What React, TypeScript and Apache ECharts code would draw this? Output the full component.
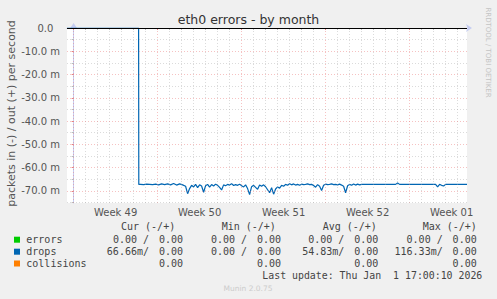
import React, { useEffect, useRef } from 'react';
import * as echarts from 'echarts';

// x unit: hours since Mon 1 Dec 00:00 (start of Week 49)
const xMin = -13.2;
const xMax = 786.8;
const weekLabels = ['Week 49', 'Week 50', 'Week 51', 'Week 52', 'Week 01'];
const weekLabelHours = [84, 252, 420, 588, 756];
const weekStartHours = [0, 168, 336, 504, 672];
const dayHours = [
  24, 48, 72, 96, 120, 144,
  192, 216, 240, 264, 288, 312,
  360, 384, 408, 432, 456, 480,
  528, 552, 576, 600, 624, 648,
  696, 720, 744, 768,
];

// y unit: milli packets / s
const yMin = -75.2;
const yMax = 0;
const yMajor = [0, -10, -20, -30, -40, -50, -60, -70];
const yMinor = [-5, -15, -25, -35, -45, -55, -65, -75];

const dropsHours = [
  -13.2, 130, 130.4, 134, 140, 146, 152, 158, 164, 170, 176, 182, 188, 194, 200, 206, 212, 218,
  224, 228, 232, 236, 240, 244, 248, 252, 256, 260, 264, 268, 272, 276, 280, 284, 288, 292, 296,
  300, 304, 308, 312, 316, 320, 324, 328, 332, 336, 340, 344, 348, 352, 356, 360, 364, 368, 372,
  376, 380, 384, 388, 392, 396, 400, 404, 408, 412, 416, 420, 424, 428, 432, 436, 440, 444, 448,
  452, 456, 460, 464, 468, 472, 476, 480, 484, 488, 492, 496, 500, 504, 508, 512, 516, 520, 524,
  528, 532, 536, 540, 544, 548, 552, 556, 560, 564, 568, 572, 576,
  644, 648, 652, 724, 728, 732, 736, 740, 744, 786.8,
];
const dropsValues = [
  0, 0, -67.2, -67.2, -67.3, -67.1, -67.2, -67.3, -67.1, -67.4, -67.0, -67.3, -67.0, -67.4, -66.8, -67.5, -67.0, -67.4,
  -68.0, -71.2, -69.0, -67.6, -68.3, -67.2, -68.6, -67.4, -67.9, -70.6, -67.8, -67.2, -68.4, -67.3, -67.9, -67.1, -67.6, -68.5, -69.6,
  -67.4, -67.8, -67.2, -67.5, -66.9, -67.7, -67.3, -67.6, -67.1, -67.8, -68.3, -67.4, -69.0, -71.6, -68.2, -67.6, -68.5, -69.3, -67.5,
  -68.0, -67.4, -68.2, -69.5, -70.8, -68.6, -71.4, -69.2, -68.3, -68.8, -67.6, -68.0, -67.2, -67.6, -66.9, -67.4, -67.0, -67.5, -67.2,
  -67.6, -67.1, -67.3, -67.2, -67.0, -67.3, -67.2, -67.7, -68.4, -67.3, -68.0, -69.8, -67.6, -67.1, -67.3, -67.2, -67.0, -67.3, -67.2,
  -67.4, -67.1, -67.5, -68.0, -70.8, -67.8, -67.2, -67.6, -67.0, -67.5, -67.1, -67.4, -67.2,
  -67.2, -66.6, -67.2, -67.2, -68.3, -67.2, -67.6, -67.9, -67.2, -67.2,
];

const legendNames = ['errors', 'drops', 'collisions'];
const legendColors = ['#00cc00', '#0066b3', '#ff8000'];
const columnHeads = ['Cur (-/+)', 'Min (-/+)', 'Avg (-/+)', 'Max (-/+)'];
const errorsIn = ['0.00', '0.00', '0.00', '0.00'];
const errorsOut = ['0.00', '0.00', '0.00', '0.00'];
const dropsIn = ['66.66m', '0.00', '54.83m', '116.33m'];
const dropsOut = ['0.00', '0.00', '0.00', '0.00'];
const collisionsOut = ['0.00', '0.00', '0.00', '0.00'];
const titleText = 'eth0 errors - by month';
const yAxisName = 'packets in (-) / out (+) per second';
const lastUpdate = 'Last update: Thu Jan  1 17:00:10 2026';
const sideText = 'RRDTOOL / TOBI OETIKER';
const footerText = 'Munin 2.0.75';

const SANS = 'DejaVu Sans';
const MONO = 'DejaVu Sans Mono';

function txt(text: string, x: number, y: number, opts: any = {}) {
  const align = opts.align || 'left';
  return {
    type: 'text',
    x,
    y,
    rotation: opts.rotation || 0,
    silent: true,
    style: {
      text,
      align,
      textAlign: align,
      verticalAlign: 'middle',
      textVerticalAlign: 'middle',
      fontSize: opts.fontSize || 10,
      fontFamily: opts.fontFamily || MONO,
      fill: opts.fill || '#444',
    },
  };
}

export default function App() {
  const ref = useRef<HTMLDivElement>(null);
  useEffect(() => {
    if (!ref.current) return;
    const chart = echarts.init(ref.current, undefined, { renderer: 'svg' });

    const dropsData = dropsHours.map((h, i) => [h, dropsValues[i]]);

    const minorStyle = { color: 'rgba(160,160,160,0.38)', type: [1, 2], width: 1 };
    const majorStyle = { color: 'rgba(235,120,120,0.45)', type: [1, 2], width: 1 };
    const gridLines: any[] = [];
    dayHours.forEach((h) => gridLines.push({ xAxis: h, lineStyle: minorStyle }));
    weekStartHours.forEach((h) => gridLines.push({ xAxis: h, lineStyle: majorStyle }));
    yMinor.forEach((v) => gridLines.push({ yAxis: v, lineStyle: minorStyle }));
    yMajor.filter((v) => v !== 0).forEach((v) => gridLines.push({ yAxis: v, lineStyle: majorStyle }));

    const colEnds = [183, 281, 378.3, 476.7];
    const colHeadStarts = [121, 221.7, 322.7, 422.7];
    const rowY = [239.5, 251.5, 263.3];
    const graphics: any[] = [];
    graphics.push(txt(titleText, 248.5, 19, { align: 'center', fontSize: 12.5, fontFamily: SANS, fill: '#333' }));
    graphics.push(txt(yAxisName, 11.5, 113.5, { align: 'center', fontSize: 11, fontFamily: SANS, fill: '#555', rotation: Math.PI / 2 }));
    graphics.push(txt(sideText, 488, 52.5, { align: 'center', fontSize: 7, fontFamily: SANS, fill: '#c4c4c4', rotation: -Math.PI / 2 }));
    graphics.push(txt(footerText, 248, 288.3, { align: 'center', fontSize: 7.5, fontFamily: SANS, fill: '#cccccc' }));
    columnHeads.forEach((h, i) => graphics.push(txt(h, colHeadStarts[i], 226.8)));
    legendNames.forEach((n, r) => {
      graphics.push({
        type: 'rect',
        silent: true,
        shape: { x: 14, y: rowY[r] - 2.8, width: 6, height: 6 },
        style: { fill: legendColors[r] },
      });
      graphics.push(txt(n, 26.3, rowY[r]));
    });
    const negLabel = (v: string) => (v.endsWith('m') ? v + '/' : v + ' /');
    colEnds.forEach((e, i) => {
      graphics.push(txt(negLabel(errorsIn[i]), e - 34, rowY[0], { align: 'right' }));
      graphics.push(txt(errorsOut[i], e, rowY[0], { align: 'right' }));
      graphics.push(txt(negLabel(dropsIn[i]), e - 34, rowY[1], { align: 'right' }));
      graphics.push(txt(dropsOut[i], e, rowY[1], { align: 'right' }));
      graphics.push(txt(collisionsOut[i], e, rowY[2], { align: 'right' }));
    });
    graphics.push(txt(lastUpdate, 262.3, 275, { fontSize: 9.9 }));

    const axisColor = '#c6cdf0';
    chart.setOption({
      animation: false,
      backgroundColor: '#f0f0f0',
      grid: {
        left: 67,
        right: 30,
        top: 28,
        bottom: 96,
        show: true,
        backgroundColor: '#ffffff',
        borderWidth: 0,
      },
      xAxis: [
        {
          type: 'value',
          min: xMin,
          max: xMax,
          position: 'bottom',
          axisLine: {
            show: true,
            lineStyle: { color: axisColor, width: 1 },
            symbol: ['none', 'arrow'],
            symbolSize: [6, 6],
            symbolOffset: [0, 5],
          },
          axisTick: {
            show: true,
            customValues: weekStartHours,
            length: 2,
            lineStyle: { color: '#e88080' },
          },
          axisLabel: {
            customValues: weekLabelHours,
            formatter: (v: number) => weekLabels[weekLabelHours.indexOf(v)] ?? '',
            color: '#555',
            fontSize: 10,
            fontFamily: SANS,
            margin: 4,
          },
          splitLine: { show: false },
        },
        {
          type: 'value',
          min: xMin,
          max: xMax,
          position: 'bottom',
          axisLine: { show: false },
          axisTick: {
            show: true,
            customValues: dayHours,
            length: 2,
            lineStyle: { color: '#bbbbbb' },
          },
          axisLabel: { show: false },
          splitLine: { show: false },
        },
      ],
      yAxis: [
        {
          type: 'value',
          min: yMin,
          max: yMax,
          position: 'left',
          axisLine: {
            show: true,
            lineStyle: { color: axisColor, width: 1 },
            symbol: ['none', 'arrow'],
            symbolSize: [6, 6],
            symbolOffset: [0, 5],
          },
          axisTick: {
            show: true,
            customValues: yMajor,
            length: 2,
            lineStyle: { color: '#e88080' },
          },
          axisLabel: {
            customValues: yMajor,
            formatter: (v: number) => (v === 0 ? '{z|0.0}' : `${v.toFixed(1)} m`),
            color: '#555',
            fontSize: 10,
            fontFamily: SANS,
            margin: 7,
            rich: { z: { color: '#555', fontSize: 10, fontFamily: SANS, padding: [0, 6.7, 0, 0] } },
          },
          splitLine: { show: false },
        },
        {
          type: 'value',
          min: yMin,
          max: yMax,
          position: 'left',
          axisLine: { show: false },
          axisTick: {
            show: true,
            customValues: yMinor,
            length: 2,
            lineStyle: { color: '#bbbbbb' },
          },
          axisLabel: { show: false },
          splitLine: { show: false },
        },
      ],
      series: [
        {
          type: 'line',
          name: 'grid',
          data: [],
          z: 1,
          silent: true,
          markLine: {
            silent: true,
            symbol: ['none', 'none'],
            label: { show: false },
            emphasis: { disabled: true },
            animation: false,
            data: gridLines,
          },
        },
        {
          type: 'line',
          name: 'drops',
          data: dropsData,
          z: 3,
          showSymbol: false,
          symbol: 'none',
          silent: true,
          lineStyle: { color: '#0066b3', width: 1.2 },
        },
        {
          type: 'line',
          name: 'zero',
          data: [],
          z: 4,
          silent: true,
          markLine: {
            silent: true,
            symbol: ['none', 'none'],
            label: { show: false },
            emphasis: { disabled: true },
            animation: false,
            data: [{ yAxis: 0, lineStyle: { color: '#000000', type: 'solid', width: 1 } }],
          },
        },
      ],
      graphic: graphics,
    });
    return () => chart.dispose();
  }, []);
  return (
    <div
      ref={ref}
      style={{ position: 'fixed', left: 0, top: 0, width: 497, height: 299 }}
    />
  );
}
